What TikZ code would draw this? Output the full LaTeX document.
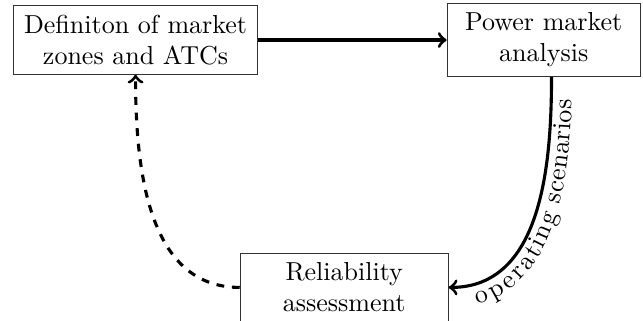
\documentclass[tikz,border=0pt]{standalone}
\usepackage{tikz}
\usetikzlibrary{positioning,decorations.text}

\begin{document}
\begin{tikzpicture}[
  box/.style={draw=black!80, align=center, inner xsep=4pt, inner ysep=3.5pt},
  arr/.style={->, very thick},
  fb/.style={->, very thick, dashed}
]
\path[use as bounding box] (0,0) rectangle (8.69,-4.33);

% Blocks
\node[box] (defn) at (1.832,-0.541) {Definiton of market\\zones and ATCs};
\node[box, right=25.5mm of defn, minimum width=26.1mm] (pma) {Power market\\analysis};
\node[box, below=24.1mm of defn.south, xshift=28.2mm, minimum width=28.1mm] (rel)
     {Reliability\\assessment};

% Edges
\draw[arr] (defn.east) -- (pma.west);
\draw[arr, <-] (rel.east) to[out=0, in=-90] ([xshift=3pt]pma.south);
\path[decorate, decoration={text along path, text={operating scenarios},
      text align=center, raise=-8pt}]
     (rel.east) to[out=0, in=-90] ([xshift=3pt]pma.south);
\draw[fb] (rel.west) to[out=180, in=-90] (defn.south);
\end{tikzpicture}
\end{document}
